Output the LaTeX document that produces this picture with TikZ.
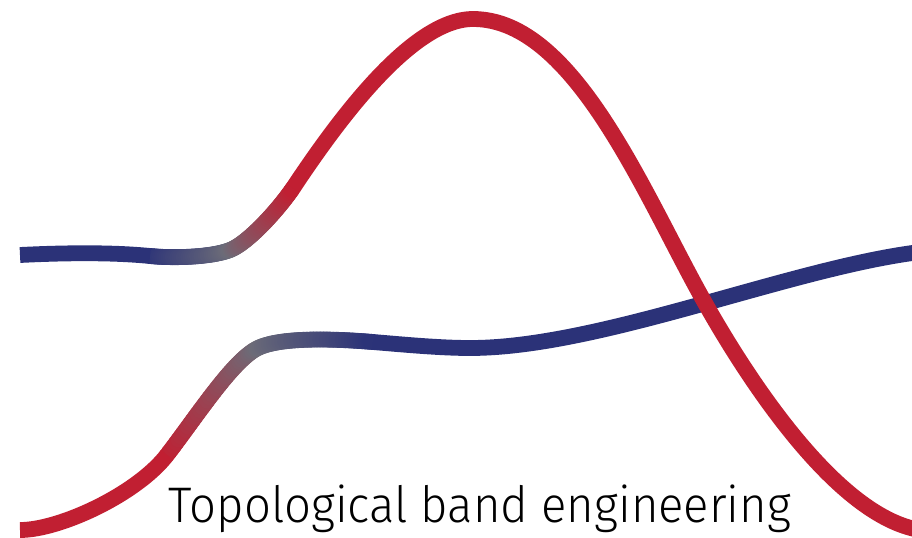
\documentclass[tikz,border=0pt]{standalone}
\usepackage{fontspec}
\IfFontExistsTF{Fira Sans Light}{\setmainfont{Fira Sans Light}[FakeStretch=0.945]}{\setmainfont{Fira Sans}[FakeStretch=0.945]}
\usetikzlibrary{calc}
\definecolor{bandblue}{RGB}{43,50,120}
\definecolor{bandred}{RGB}{193,31,50}
\definecolor{bandgray}{RGB}{108,108,120}
\tikzset{band/.style={line width=7.9pt}}
% point on cubic Bezier by de Casteljau: #1 name, #2 t, #3..#6 control points
\newcommand{\bezpt}[6]{%
  \coordinate (dq1) at ($(#3)!#2!(#4)$);
  \coordinate (dq2) at ($(#4)!#2!(#5)$);
  \coordinate (dq3) at ($(#5)!#2!(#6)$);
  \coordinate (dr1) at ($(dq1)!#2!(dq2)$);
  \coordinate (dr2) at ($(dq2)!#2!(dq3)$);
  \coordinate (#1) at ($(dr1)!#2!(dr2)$);
}
% gradient-coloured cubic: #1..#4 points, #5 start colour, #6 end colour
\newcommand{\gradseg}[6]{%
  \foreach \k in {0,...,40}{%
    \pgfmathsetmacro\tv{\k/40}%
    \bezpt{gp\k}{\tv}{#1}{#2}{#3}{#4}%
  }%
  \foreach \k [evaluate=\k as \kn using int(\k+1)] in {0,...,39}{%
    \pgfmathsetmacro\pc{100-100*(\k+0.5)/40}%
    \draw[band, line cap=round, color=#5!\pc!#6] (gp\k) -- (gp\kn);
  }%
}
\begin{document}
\begin{tikzpicture}[x=0.5pt, y=-0.5pt]
\useasboundingbox (0,0) rectangle (912,537);
% upper band coordinates
\coordinate (U0) at (20,255);  \coordinate (U0a) at (60,253);  \coordinate (U0b) at (110,252);
\coordinate (U1) at (150,256); \coordinate (U1a) at (175,258.5); \coordinate (U1b) at (212,257);
\coordinate (U2) at (230,250); \coordinate (U2a) at (248,243); \coordinate (U2b) at (278,210);
\coordinate (U3) at (293,188); \coordinate (U3a) at (333,128); \coordinate (U3b) at (410,19);
\coordinate (U4) at (473,19);  \coordinate (U4a) at (575,19);  \coordinate (U4b) at (645,197);
\coordinate (U5) at (705,303); \coordinate (U5a) at (745,374); \coordinate (U5b) at (835,516);
\coordinate (U6) at (920,530);
% lower band coordinates
\coordinate (L0) at (20,530);  \coordinate (L0a) at (60,530);  \coordinate (L0b) at (137,494);
\coordinate (L1) at (167,455); \coordinate (L1a) at (197,416); \coordinate (L1b) at (233,360);
\coordinate (L2) at (258,348); \coordinate (L2a) at (283,336); \coordinate (L2b) at (343,339.5);
\coordinate (L3) at (373,342); \coordinate (L3a) at (403,344.5); \coordinate (L3b) at (440,348);
\coordinate (L4) at (470,348); \coordinate (L4a) at (600,348); \coordinate (L4b) at (790,268);
\coordinate (L5) at (920,252);

% lower band
\gradseg{L1}{L1a}{L1b}{L2}{bandred}{bandgray}
\gradseg{L2}{L2a}{L2b}{L3}{bandgray}{bandblue}
\draw[band, bandred] (L0) .. controls (L0a) and (L0b) .. (L1);
\draw[band, bandblue] (L3) .. controls (L3a) and (L3b) .. (L4)
  .. controls (L4a) and (L4b) .. (L5);

% upper band
\gradseg{U1}{U1a}{U1b}{U2}{bandblue}{bandgray}
\gradseg{U2}{U2a}{U2b}{U3}{bandgray}{bandred}
\draw[band, bandblue] (U0) .. controls (U0a) and (U0b) .. (U1);
\draw[band, bandred] (U3) .. controls (U3a) and (U3b) .. (U4)
  .. controls (U4a) and (U4b) .. (U5)
  .. controls (U5a) and (U5b) .. (U6);

\node[font=\fontsize{25}{30}\selectfont, anchor=base, inner sep=0pt] (title) at (480,522) {Topological band engineering};
\end{tikzpicture}
\end{document}
